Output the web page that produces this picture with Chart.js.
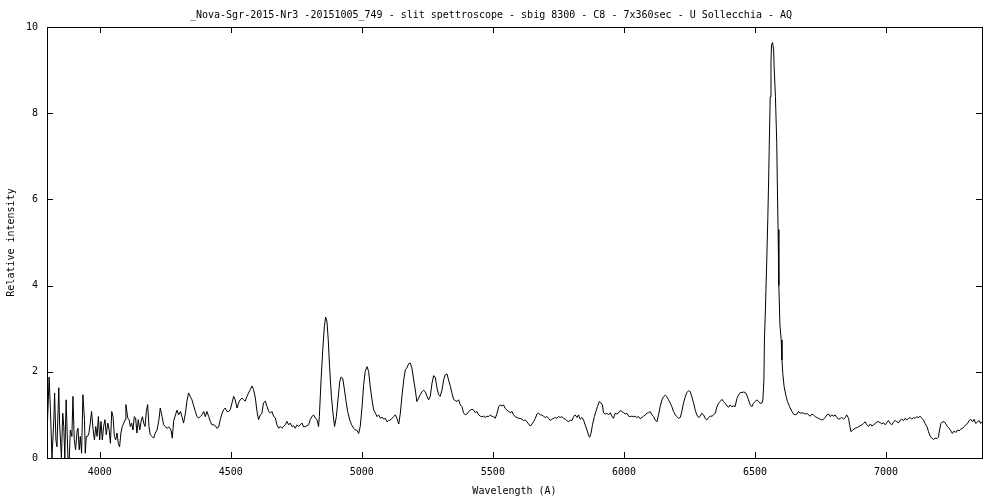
<!DOCTYPE html>
<html>
<head>
<meta charset="utf-8">
<script src="https://cdn.jsdelivr.net/npm/chart.js@4.4.1/dist/chart.umd.min.js"></script>
<style>
  html, body { margin: 0; padding: 0; background: #fff; }
  #wrap { width: 1000px; height: 500px; }
</style>
</head>
<body>
<div id="wrap"><canvas id="spectrum" width="1000" height="500"></canvas></div>
<script>
// Spettro: lunghezza d'onda (A) e intensita' relativa, per tratti
const waveBlue = [
  3799,3807,3812,3818,3825,3828,3833,3837,3844,3847,
  3854,3859,3863,3867,3872,3879,3884,3888,3894,3898,
  3903,3908,3914,3917,3922,3926,3931,3936,3942,3945,
  3949,3954,3959,3964,3969,3975,3980,3985,3990,3995,
  4000,4005,4010,4015,4020,4025,4031,4036,4041,4046,
  4051,4056,4061,4066,4071,4076,4081,4086,4092,4097,
  4100,4107,4112,4117,4122,4127,4132,4137,4142,4147,
  4153,4158,4163,4168,4173,4178,4183,4188,4193,4200,
  4206,4212,4219,4226,4231,4238,4244,4250,4257,4264,
  4272,4277,4282,4289,4295,4301,4308,4314,4320,4327,
  4333,4339,4346,4352,4359,4365,4371,4378,4384,4390,
  4397,4403,4409,4416,4422,4428,4435,4441,4447,4454,
  4460,4467,4473,4479,4486,4492,4498,4505,4511,4517,
  4524,4530,4536,4543,4549,4555,4562,4568,4575,4581,
  4587,4594,4600,4606,4613,4619,4625,4632,4638,4645,
  4651,4657,4664,4670,4676,4683,4689,4695,4702,4708,
  4714,4721,4727,4733,4740,4746,4753,4759,4765,4772,
  4778,4784,4791,4797,4803,4810,4816,4822,4829,4835
];
const fluxBlue = [
  0.50,1.88,1.12,0,0.89,1.51,0.42,0.26,1.63,0.81,
  0,1.04,0.73,0,1.35,0,0,0.65,0.50,1.43,
  0.42,0.19,0.65,0.69,0.19,0.50,0.11,1.47,0.89,0.11,
  0.50,0.50,0.58,0.81,1.08,0.65,0.42,0.73,0.50,0.96,
  0.42,0.85,0.42,0.73,0.89,0.54,0.81,0.65,0.34,1.08,
  0.96,0.50,0.42,0.58,0.34,0.26,0.58,0.73,0.81,0.89,
  1.24,0.93,0.89,0.73,0.81,0.65,0.96,0.93,0.58,0.89,
  0.65,0.85,0.96,0.81,0.73,1.08,1.24,0.73,0.54,0.50,
  0.46,0.58,0.65,0.89,1.16,0.96,0.77,0.73,0.69,0.72,
  0.65,0.46,0.85,1.00,1.11,1.00,1.08,0.96,0.81,1.04,
  1.32,1.51,1.42,1.35,1.20,1.08,0.96,0.93,0.96,1.00,
  1.08,0.96,1.08,0.96,0.85,0.77,0.77,0.75,0.69,0.72,
  0.89,1.04,1.12,1.16,1.08,1.08,1.12,1.28,1.43,1.35,
  1.16,1.28,1.35,1.39,1.35,1.32,1.43,1.51,1.59,1.67,
  1.59,1.39,1.08,0.89,1.00,1.04,1.28,1.32,1.20,1.08,
  1.04,1.08,0.96,0.93,0.77,0.69,0.73,0.69,0.73,0.77,
  0.85,0.77,0.81,0.73,0.75,0.69,0.77,0.73,0.77,0.81,
  0.72,0.73,0.75,0.77,0.89,0.96,1.00,0.93,0.89,0.73
];

const waveHbeta = [
  4838,4844,4851,4857,4862,4867,4872,4877,4884,4890,
  4896,4903,4909,4916,4921,4927,4933,4940,4946,4954,
  4961,4969,4975,4982,4988,4994,5001,5007,5013,5020,
  5026,5032,5039,5045,5052,5058,5064,5071,5077,5083,
  5090,5096,5102,5109,5115,5121,5128,5134,5141,5147,
  5153,5160,5166,5172,5179,5185,5191,5198,5204,5210,
  5217,5223,5230,5236,5242,5249,5255,5261,5268,5274,
  5280,5287,5293,5299,5306,5312,5318,5325,5331,5338,
  5344,5350,5357,5363,5369
];
const fluxHbeta = [
  0.96,1.74,2.51,3.05,3.27,3.17,2.74,2.12,1.43,1.04,
  0.73,0.96,1.35,1.78,1.88,1.85,1.62,1.31,1.08,0.88,
  0.77,0.69,0.65,0.64,0.57,0.73,1.19,1.70,2.01,2.12,
  2.01,1.66,1.35,1.12,1.04,0.96,1.00,0.92,0.95,0.90,
  0.92,0.84,0.87,0.88,0.92,0.96,1.00,0.92,0.79,1.04,
  1.43,1.81,2.05,2.09,2.19,2.20,2.09,1.81,1.58,1.31,
  1.39,1.47,1.54,1.57,1.54,1.43,1.35,1.43,1.74,1.91,
  1.88,1.62,1.47,1.43,1.58,1.81,1.93,1.95,1.81,1.66,
  1.50,1.36,1.33,1.31,1.35
];

const waveMid = [
  5376,5382,5388,5395,5401,5408,5414,5420,5427,5433,
  5439,5446,5452,5458,5465,5471,5477,5484,5490,5496,
  5503,5509,5516,5522,5528,5535,5541,5547,5554,5560,
  5566,5573,5579,5585,5592,5598,5604,5611,5617,5624,
  5630,5636,5643,5649,5655,5662,5668,5674,5681,5687,
  5693,5700,5706,5713,5719,5725,5732,5738,5744,5751,
  5757,5763,5770,5776,5782,5789,5795,5802,5808,5814,
  5821,5827,5833,5840,5846,5852,5859,5865,5869,5874,
  5880,5887,5893,5899,5906,5912,5918,5922,5929,5935,
  5941,5948,5954,5960,5967,5973,5980
];
const fluxMid = [
  1.23,1.19,1.05,1.00,1.02,1.08,1.11,1.13,1.11,1.05,
  1.08,1.00,0.97,0.96,0.97,0.94,0.97,0.96,1.00,0.97,
  0.96,0.92,1.04,1.19,1.23,1.21,1.23,1.15,1.11,1.08,
  1.05,1.08,1.00,0.96,0.94,0.92,0.92,0.90,0.87,0.88,
  0.84,0.79,0.74,0.79,0.84,0.92,1.02,1.04,1.00,1.00,
  0.97,0.94,0.96,0.92,0.87,0.90,0.92,0.94,0.92,0.96,
  0.94,0.96,0.92,0.90,0.87,0.84,0.88,0.87,0.96,1.00,
  0.94,1.00,0.90,0.94,0.88,0.77,0.65,0.53,0.48,0.56,
  0.77,0.96,1.08,1.19,1.31,1.28,1.23,1.05,1.02,1.04,
  1.00,1.05,0.97,0.92,1.04,1.02,1.05
];

const waveRed = [
  5986,5992,5999,6005,6011,6018,6024,6030,6037,6043,
  6049,6056,6062,6069,6075,6081,6088,6094,6100,6107,
  6113,6119,6126,6132,6138,6145,6151,6158,6164,6170,
  6177,6183,6189,6196,6202,6208,6215,6221,6227,6234,
  6240,6247,6253,6259,6266,6272,6278,6285,6291,6297,
  6304,6310,6316,6323,6329,6336,6342,6348,6355,6361,
  6367,6374,6380,6386,6393,6399,6405,6412,6418,6424,
  6431,6437,6444,6450,6456,6463,6469,6475,6482,6488,
  6494,6501,6507,6513,6520,6526,6530
];
const fluxRed = [
  1.10,1.08,1.05,1.02,1.04,0.97,0.96,0.97,0.96,0.97,
  0.94,0.96,0.91,0.94,0.97,1.00,1.04,1.05,1.08,1.00,
  0.96,0.88,0.84,1.00,1.19,1.35,1.42,1.46,1.42,1.35,
  1.27,1.19,1.08,1.00,0.96,0.92,0.94,1.08,1.27,1.42,
  1.52,1.56,1.54,1.42,1.27,1.11,1.00,0.94,0.97,1.04,
  1.00,0.92,0.88,0.94,0.97,0.97,1.00,1.04,1.19,1.27,
  1.31,1.36,1.31,1.27,1.21,1.18,1.23,1.19,1.21,1.19,
  1.38,1.46,1.52,1.52,1.53,1.52,1.46,1.35,1.23,1.19,
  1.27,1.31,1.35,1.31,1.27,1.27,1.35
];

// riga H-alpha
const waveHalpha = [6534,6536,6540,6545,6549,6552,6554,6558,6561,6563,6567,6571,6573,6578,6583,6585,6588,6591,6595,6600,6603];
const fluxHalpha = [1.81,2.74,3.5,4.6,5.6,6.45,7.11,8.38,9.19,9.58,9.64,9.47,9.08,8.38,7.30,6.45,5.3,4.0,3.1,2.74,2.27];

const waveFar = [
  6606,6611,6619,6624,6632,6641,6647,6653,6660,6666,
  6672,6679,6685,6692,6698,6704,6711,6717,6723,6730,
  6736,6742,6749,6755,6761,6768,6774,6781,6787,6793,
  6800,6806,6812,6819,6825,6831,6838,6844,6850,6857,
  6861,6866,6873,6882,6891,6899,6908,6914,6920,6927,
  6933,6940,6946,6952,6959,6965,6971,6978,6984,6990,
  6997,7003,7009,7016,7022,7029,7035,7041,7048,7054,
  7060,7067,7073,7079,7086,7092,7098,7105,7111,7117,
  7124,7130,7137,7143,7149,7156,7162,7168,7175,7181,
  7187,7194,7200,7204,7209,7215,7222,7228,7234,7241,
  7247,7253,7260,7266,7273,7279,7285,7292,7298,7304,
  7311,7317,7323,7330,7336,7342,7349,7355,7361,7365
];
const fluxFar = [
  1.96,1.66,1.42,1.31,1.19,1.08,1.02,1.00,1.02,1.08,
  1.04,1.05,1.04,1.02,1.04,1.00,0.97,1.02,1.00,0.96,
  0.94,0.92,0.90,0.88,0.90,0.94,1.00,1.02,0.96,1.00,
  0.97,1.00,0.94,0.90,0.92,0.94,0.90,0.94,1.00,0.92,
  0.77,0.61,0.65,0.69,0.71,0.74,0.77,0.80,0.84,0.77,
  0.73,0.79,0.74,0.77,0.80,0.84,0.84,0.82,0.79,0.82,
  0.77,0.82,0.87,0.80,0.77,0.84,0.87,0.84,0.82,0.88,
  0.90,0.87,0.92,0.88,0.92,0.94,0.90,0.94,0.92,0.96,
  0.94,0.97,0.92,0.88,0.80,0.73,0.61,0.51,0.46,0.43,
  0.46,0.45,0.49,0.65,0.80,0.84,0.84,0.79,0.73,0.69,
  0.63,0.57,0.63,0.59,0.65,0.63,0.67,0.69,0.73,0.77,
  0.80,0.87,0.90,0.84,0.90,0.80,0.84,0.87,0.80,0.84
];

const xTickValues = [4000, 4500, 5000, 5500, 6000, 6500, 7000];
const yTickValues = [0, 2, 4, 6, 8, 10];

const titleText = "_Nova-Sgr-2015-Nr3 -20151005_749 - slit spettroscope - sbig 8300 - C8 - 7x360sec - U Sollecchia - AQ";
const xLabel = "Wavelength (A)";
const yLabel = "Relative intensity";
const xRange = [3799, 7366];
const yRange = [0, 10];

const FONT = "'DejaVu Sans Mono', 'Liberation Mono', monospace";

// unisce i tratti in una sola serie
const wave = [].concat(waveBlue, waveHbeta, waveMid, waveRed, waveHalpha, waveFar);
const flux = [].concat(fluxBlue, fluxHbeta, fluxMid, fluxRed, fluxHalpha, fluxFar);
const points = wave.map((w, i) => ({ x: w, y: flux[i] }));

// cornice e tacche interne stile gnuplot
const frameTicks = {
  id: "frameTicks",
  afterDraw(chart) {
    const { ctx, chartArea: a, scales } = chart;
    const len = 6;
    ctx.save();
    ctx.strokeStyle = "#000";
    ctx.lineWidth = 1;
    ctx.beginPath();
    scales.x.ticks.forEach(t => {
      const px = Math.round(scales.x.getPixelForValue(t.value)) + 0.5;
      ctx.moveTo(px, a.bottom); ctx.lineTo(px, a.bottom - len);
      ctx.moveTo(px, a.top); ctx.lineTo(px, a.top + len);
    });
    scales.y.ticks.forEach(t => {
      const py = Math.round(scales.y.getPixelForValue(t.value)) + 0.5;
      ctx.moveTo(a.left, py); ctx.lineTo(a.left + len, py);
      ctx.moveTo(a.right, py); ctx.lineTo(a.right - len, py);
    });
    ctx.stroke();
    ctx.strokeRect(Math.round(a.left) + 0.5, Math.round(a.top) + 0.5,
      Math.round(a.right - a.left), Math.round(a.bottom - a.top));
    ctx.restore();
  }
};

new Chart(document.getElementById("spectrum").getContext("2d"), {
  type: "line",
  data: {
    datasets: [{
      data: points,
      borderColor: "#000",
      borderWidth: 1,
      pointRadius: 0,
      tension: 0,
      fill: false
    }]
  },
  options: {
    responsive: false,
    animation: false,
    devicePixelRatio: 1,
    layout: { padding: { left: 0, right: 18, top: 0, bottom: 0 } },
    plugins: {
      legend: { display: false },
      tooltip: { enabled: false },
      title: {
        display: true,
        text: titleText,
        color: "#000",
        font: { family: FONT, size: 10, weight: "normal" },
        padding: { top: 9, bottom: 6 }
      }
    },
    scales: {
      x: {
        type: "linear",
        min: xRange[0],
        max: xRange[1],
        grid: { display: false },
        border: { display: false },
        afterBuildTicks: s => { s.ticks = xTickValues.map(v => ({ value: v })); },
        ticks: {
          color: "#000",
          padding: 0,
          maxRotation: 0,
          autoSkip: false,
          font: { family: FONT, size: 10 },
          callback: v => String(v)
        },
        title: {
          display: true,
          text: xLabel,
          color: "#000",
          font: { family: FONT, size: 10 },
          padding: { top: 0, bottom: 3 }
        },
        afterFit: s => { s.height = 42; }
      },
      y: {
        min: yRange[0],
        max: yRange[1],
        grid: { display: false },
        border: { display: false },
        afterBuildTicks: s => { s.ticks = yTickValues.map(v => ({ value: v })); },
        ticks: {
          color: "#000",
          padding: 1,
          font: { family: FONT, size: 10 }
        },
        title: {
          display: true,
          text: yLabel,
          color: "#000",
          font: { family: FONT, size: 10 },
          padding: { top: 5, bottom: 0 }
        },
        afterFit: s => { s.width = 47; }
      }
    }
  },
  plugins: [frameTicks]
});
</script>
</body>
</html>
